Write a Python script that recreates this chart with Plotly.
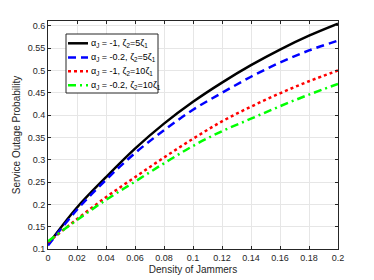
import plotly.graph_objects as go

density = [0, 0.02, 0.04, 0.06, 0.08, 0.1, 0.12, 0.14, 0.16, 0.18, 0.2]
s_black = [0.110, 0.193, 0.261, 0.325, 0.381, 0.430, 0.473, 0.512, 0.547, 0.578, 0.605]
s_blue = [0.108, 0.188, 0.255, 0.315, 0.366, 0.412, 0.450, 0.486, 0.518, 0.545, 0.567]
s_red = [0.115, 0.167, 0.216, 0.261, 0.305, 0.347, 0.386, 0.419, 0.449, 0.476, 0.500]
s_green = [0.117, 0.165, 0.210, 0.251, 0.292, 0.331, 0.364, 0.392, 0.420, 0.446, 0.470]

names = [
    "α<sub>J</sub> = -1, ζ<sub>2</sub>=5ζ<sub>1</sub>",
    "α<sub>J</sub> = -0.2, ζ<sub>2</sub>=5ζ<sub>1</sub>",
    "α<sub>J</sub> = -1, ζ<sub>2</sub>=10ζ<sub>1</sub>",
    "α<sub>J</sub> = -0.2, ζ<sub>2</sub>=10ζ<sub>1</sub>",
]
series = [s_black, s_blue, s_red, s_green]
colors = ["#000000", "#0000ff", "#ff0000", "#00ff00"]
dashes = ["solid", "8px,5px", "dot", "8px,4px,2px,4px"]
x_ticks = [0, 0.02, 0.04, 0.06, 0.08, 0.1, 0.12, 0.14, 0.16, 0.18, 0.2]
x_ticklabels = ["0", "0.02", "0.04", "0.06", "0.08", "0.1", "0.12", "0.14", "0.16", "0.18", "0.2"]
y_ticks = [0.1, 0.15, 0.2, 0.25, 0.3, 0.35, 0.4, 0.45, 0.5, 0.55, 0.6]
y_ticklabels = ["0.1", "0.15", "0.2", "0.25", "0.3", "0.35", "0.4", "0.45", "0.5", "0.55", "0.6"]

fig = go.Figure()
for s, n, c, d in zip(series, names, colors, dashes):
    fig.add_trace(go.Scatter(x=density, y=s, name=n, mode="lines", showlegend=False,
                             line=dict(color=c, width=2.5, dash=d, shape="spline")))

# custom compact legend (box, line samples, labels) in paper coordinates
LW = 290.0
LH = 228.0
def px_x(p):
    return (p - 48) / LW
def px_y(p):
    return (249 - p) / LH

fig.add_shape(type="rect", xref="paper", yref="paper",
              x0=px_x(66), x1=px_x(158), y0=px_y(93), y1=px_y(34),
              line=dict(color="#262626", width=1), fillcolor="white", layer="above")
entry_y = [43.3, 57.5, 71.3, 85.3]
for ey, n, c, d in zip(entry_y, names, colors, dashes):
    fig.add_shape(type="line", xref="paper", yref="paper",
                  x0=px_x(68), x1=px_x(88), y0=px_y(ey), y1=px_y(ey),
                  line=dict(color=c, width=2.5, dash=d), layer="above")
    fig.add_annotation(xref="paper", yref="paper", x=px_x(89), y=px_y(ey),
                       xanchor="left", yanchor="middle", showarrow=False,
                       text=n, font=dict(size=9, color="#000000"))

axis_common = dict(
    showline=True, linecolor="#262626", linewidth=1, mirror="ticks",
    ticks="inside", ticklen=3, tickcolor="#262626",
    showgrid=True, gridcolor="#e6e6e6", gridwidth=1, zeroline=False,
    automargin=False,
    tickfont=dict(family="Liberation Sans, Arial", size=9, color="#262626"),
)

fig.update_layout(
    width=374, height=280,
    margin=dict(l=48, r=36, t=21, b=31),
    paper_bgcolor="white", plot_bgcolor="white",
    font=dict(family="Liberation Sans, Arial", color="#262626"),
    xaxis=dict(range=[0, 0.2], tickvals=x_ticks, ticktext=x_ticklabels,
               title=dict(text="Density of Jammers", font=dict(size=10), standoff=4),
               **axis_common),
    yaxis=dict(range=[0.1, 0.611], tickvals=y_ticks, ticktext=y_ticklabels,
               title=dict(text="Service Outage Probability", font=dict(size=10), standoff=5),
               **axis_common),
    showlegend=False,
)

fig.write_html("out.html", config={"displayModeBar": False},
               post_script="document.body.style.margin='0';")
